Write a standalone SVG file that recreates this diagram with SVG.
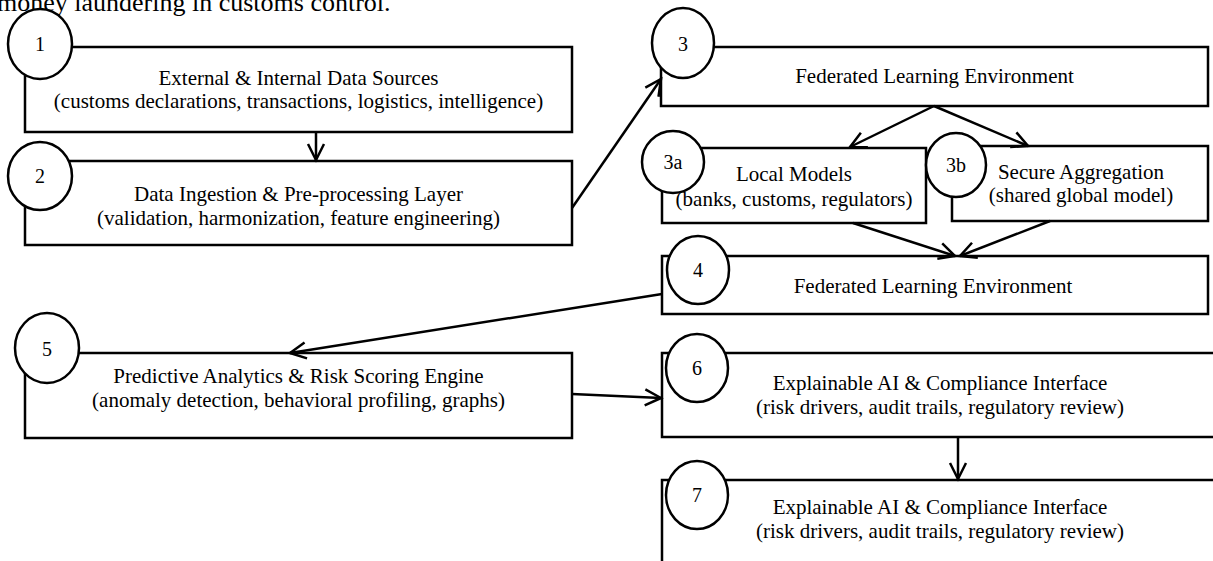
<svg xmlns="http://www.w3.org/2000/svg" width="1213" height="561" viewBox="0 0 1213 561">
<style>
.box{fill:#fff;stroke:#000;stroke-width:2.5}
.num{fill:#fff;stroke:#000;stroke-width:2.5}
.t{font-family:"Liberation Serif","Times New Roman",serif;font-size:21px;fill:#000;text-anchor:middle}
.n{font-family:"Liberation Serif","Times New Roman",serif;font-size:20px;fill:#000;text-anchor:middle}
.title{font-family:"Liberation Serif","Times New Roman",serif;font-size:26px;fill:#000}
.c{fill:none;stroke:#000;stroke-width:2.5;marker-end:url(#arr)}
</style>
<defs>
<marker id="arr" markerUnits="userSpaceOnUse" viewBox="0 0 20 20" markerWidth="20" markerHeight="20" refX="17" refY="10" orient="auto">
<path d="M1,2 L17,10 L1,18" fill="none" stroke="#000" stroke-width="2.5"/>
</marker>
</defs>
<rect width="1213" height="561" fill="#fff"/>
<text class="title" x="-3" y="11">money laundering in customs control.</text>

<g id="node-1">
<rect class="box" x="25" y="47" width="547" height="85"/>
<ellipse class="num" cx="40" cy="44" rx="32" ry="35"/>
<text class="n" x="40" y="51">1</text>
<text class="t" x="298.5" y="85">External &amp; Internal Data Sources</text>
<text class="t" x="298.5" y="108">(customs declarations, transactions, logistics, intelligence)</text>
</g>

<g id="node-2">
<rect class="box" x="25" y="161" width="547" height="84"/>
<ellipse class="num" cx="40" cy="176" rx="32" ry="34"/>
<text class="n" x="40" y="183">2</text>
<text class="t" x="298.5" y="201">Data Ingestion &amp; Pre-processing Layer</text>
<text class="t" x="298.5" y="225">(validation, harmonization, feature engineering)</text>
</g>

<g id="node-3">
<rect class="box" x="661" y="47" width="547" height="59"/>
<ellipse class="num" cx="683" cy="43" rx="31" ry="35"/>
<text class="n" x="683" y="51">3</text>
<text class="t" x="934.5" y="83">Federated Learning Environment</text>
</g>

<g id="node-3a">
<rect class="box" x="662" y="148" width="264" height="75"/>
<ellipse class="num" cx="673" cy="162" rx="31" ry="31"/>
<text class="n" x="673" y="169">3a</text>
<text class="t" x="794" y="181">Local Models</text>
<text class="t" x="794" y="206">(banks, customs, regulators)</text>
</g>

<g id="node-3b">
<rect class="box" x="952" y="146" width="256" height="75"/>
<ellipse class="num" cx="956" cy="165" rx="30" ry="32"/>
<text class="n" x="956" y="172">3b</text>
<text class="t" x="1081" y="179">Secure Aggregation</text>
<text class="t" x="1081" y="202">(shared global model)</text>
</g>

<g id="node-4">
<rect class="box" x="662" y="256" width="546" height="58"/>
<ellipse class="num" cx="698" cy="270" rx="31" ry="34"/>
<text class="n" x="698" y="277">4</text>
<text class="t" x="933" y="293">Federated Learning Environment</text>
</g>

<g id="node-5">
<rect class="box" x="25" y="353" width="547" height="85"/>
<ellipse class="num" cx="47" cy="348" rx="32" ry="35"/>
<text class="n" x="47" y="356">5</text>
<text class="t" x="298.5" y="383">Predictive Analytics &amp; Risk Scoring Engine</text>
<text class="t" x="298.5" y="407">(anomaly detection, behavioral profiling, graphs)</text>
</g>

<g id="node-6">
<rect class="box" x="662" y="353" width="560" height="84"/>
<ellipse class="num" cx="697" cy="368" rx="31" ry="34"/>
<text class="n" x="697" y="375">6</text>
<text class="t" x="940" y="390">Explainable AI &amp; Compliance Interface</text>
<text class="t" x="940" y="414">(risk drivers, audit trails, regulatory review)</text>
</g>

<g id="node-7">
<rect class="box" x="662" y="480" width="560" height="95"/>
<ellipse class="num" cx="697" cy="495" rx="31" ry="34"/>
<text class="n" x="697" y="502">7</text>
<text class="t" x="940" y="514">Explainable AI &amp; Compliance Interface</text>
<text class="t" x="940" y="538">(risk drivers, audit trails, regulatory review)</text>
</g>

<g id="connectors">
<line class="c" x1="316" y1="132" x2="316" y2="160"/>
<line class="c" x1="572" y1="208" x2="661" y2="79"/>
<line class="c" x1="934" y1="106" x2="850" y2="147"/>
<line class="c" x1="934" y1="106" x2="1028" y2="146"/>
<line class="c" x1="853" y1="223" x2="955" y2="256"/>
<line class="c" x1="1050" y1="221" x2="960" y2="256"/>
<line class="c" x1="662" y1="294" x2="290" y2="353"/>
<line class="c" x1="572" y1="394" x2="661" y2="398"/>
<line class="c" x1="958" y1="437" x2="958" y2="479"/>
</g>
</svg>
